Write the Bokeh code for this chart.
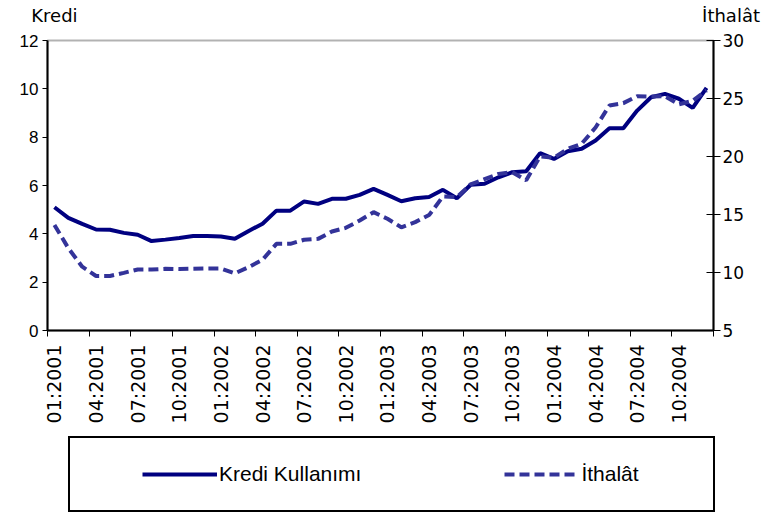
import math
from bokeh.plotting import figure
from bokeh.models import (Range1d, LinearAxis, FixedTicker, Label, Legend, LegendItem,
                          BoxAnnotation, ColumnDataSource)
from bokeh.embed import file_html
from bokeh.resources import INLINE

# ---- data ----
months = [f"{m:02d}:{y}" for y in (2001, 2002, 2003, 2004) for m in range(1, 13)]
kredi = [5.10, 4.66, 4.41, 4.18, 4.17, 4.04, 3.96, 3.70, 3.76, 3.83, 3.91, 3.91,
         3.89, 3.80, 4.12, 4.42, 4.96, 4.96, 5.34, 5.24, 5.45, 5.45, 5.61, 5.86,
         5.61, 5.35, 5.47, 5.52, 5.82, 5.47, 6.03, 6.07, 6.34, 6.55, 6.59, 7.34,
         7.10, 7.42, 7.52, 7.86, 8.37, 8.37, 9.10, 9.65, 9.79, 9.59, 9.21, 10.04]
ithalat = [14.1, 12.1, 10.5, 9.7, 9.7, 9.97, 10.26, 10.26, 10.32, 10.30, 10.32, 10.34,
           10.34, 9.92, 10.46, 11.1, 12.47, 12.47, 12.82, 12.9, 13.53, 13.85, 14.48, 15.2,
           14.63, 13.9, 14.34, 14.95, 16.55, 16.5, 17.6, 18.05, 18.5, 18.65, 17.95, 20.0,
           19.9, 20.66, 21.1, 22.5, 24.4, 24.6, 25.2, 25.17, 25.2, 24.5, 24.8, 25.7]
left_ticks = [0, 2, 4, 6, 8, 10, 12]
right_ticks = [5, 10, 15, 20, 25, 30]
label_every = 3
left_title = "Kredi"
right_title = "İthalât"

n = len(months)
x = list(range(n))
src = ColumnDataSource(dict(x=x, kredi=kredi, ithalat=ithalat))

NAVY = "#000080"
INDIGO = "#333399"
FONT = "Liberation Sans"
VFONT = "DejaVu Sans"

# ---- layout (pixels) ----
W, H = 763, 514
PL, PR, PT, PB = 47, 713, 40, 330          # plot-area box on the canvas
ymin, ymax = left_ticks[0], left_ticks[-1]
rmin, rmax = right_ticks[0], right_ticks[-1]
dx = (PR - PL) / n                           # px per month
dy = (PB - PT) / (ymax - ymin)
dr = (PB - PT) / (rmax - rmin)
x_range = Range1d(-0.5 - PL / dx, -0.5 + (W - PL) / dx)
y_range = Range1d(ymin - (H - PB) / dy, ymax + PT / dy)
r_range = Range1d(rmin - (H - PB) / dr, rmax + PT / dr)

p = figure(width=W, height=H, output_backend="svg", toolbar_location=None,
           title_location=None, x_range=x_range, y_range=y_range,
           min_border_left=0, min_border_right=0, min_border_top=0, min_border_bottom=0)
p.outline_line_color = None
p.xgrid.visible = False
p.ygrid.visible = False
p.background_fill_color = "white"
p.border_fill_color = "white"
p.extra_y_ranges = {"imp": r_range}

# plot-area frame
p.add_layout(BoxAnnotation(left=-0.5, right=n - 0.5, bottom=ymin, top=ymax,
                           fill_color=None, line_color="black", line_width=2))

# left axis
ya = p.yaxis[0]
ya.fixed_location = -0.5
ya.bounds = (ymin, ymax)
ya.ticker = FixedTicker(ticks=left_ticks)
ya.minor_tick_line_color = None
ya.major_tick_in = 0
ya.major_tick_out = 5
ya.axis_line_width = 2
ya.major_label_text_font = FONT
ya.major_label_text_font_size = "17px"
ya.major_label_text_color = "black"
ya.major_label_standoff = 4

# right axis
ra = LinearAxis(y_range_name="imp", ticker=FixedTicker(ticks=right_ticks),
                fixed_location=n - 0.5, bounds=(rmin, rmax))
ra.minor_tick_line_color = None
ra.major_tick_in = 7
ra.major_tick_out = 7
ra.axis_line_width = 2
ra.major_label_text_font = VFONT
ra.major_label_text_font_size = "17px"
ra.major_label_text_color = "black"
ra.major_label_standoff = 2
p.add_layout(ra, "right")

# bottom axis: labels at month centers, tick marks at category boundaries
xa = p.xaxis[0]
xa.fixed_location = ymin
xa.bounds = (-0.5, n - 0.5)
centers = x[::label_every]
bounds = [i - 0.5 for i in range(0, n + 1, label_every)]
xa.ticker = FixedTicker(ticks=centers, minor_ticks=bounds)
xa.major_label_overrides = {i: months[i] for i in centers}
xa.major_tick_line_color = None
xa.minor_tick_in = 0
xa.minor_tick_out = 6
xa.minor_tick_line_color = "black"
xa.minor_tick_line_width = 1
xa.axis_line_width = 2
xa.major_label_orientation = math.pi / 2
xa.major_label_text_font = VFONT
xa.major_label_text_font_size = "19px"
xa.major_label_text_color = "black"
xa.major_label_standoff = 8

r_k = p.line("x", "kredi", source=src, line_color=NAVY, line_width=4)
r_i = p.line("x", "ithalat", source=src, y_range_name="imp", line_color=INDIGO,
             line_width=4, line_dash="10 5")

# axis titles
p.add_layout(Label(x=0, y=ymax + 1.03, text=left_title, text_align="center",
                   text_baseline="middle", text_font=VFONT, text_font_size="18px",
                   text_color="black"))
p.add_layout(Label(x=n + 2.85, y=ymax + 1.03, text=right_title, text_align="right",
                   text_baseline="middle", text_font=VFONT, text_font_size="18px",
                   text_color="black"))

# legend box
leg = Legend(items=[LegendItem(label="Kredi Kullanımı", renderers=[r_k]),
                    LegendItem(label="İthalât", renderers=[r_i])],
             orientation="horizontal", location=(68, 2), padding=24, margin=0,
             title=" ", title_location="left", title_text_font_size="1px", title_standoff=47,
             spacing=143, glyph_width=75, glyph_height=22, label_standoff=2, label_width=108,
             border_line_color="black", border_line_alpha=1, border_line_width=2,
             background_fill_color="white", background_fill_alpha=1,
             label_text_font=FONT, label_text_font_size="21px", label_text_color="black")
p.add_layout(leg, "center")

open("out.html", "w").write(file_html(p, INLINE))
